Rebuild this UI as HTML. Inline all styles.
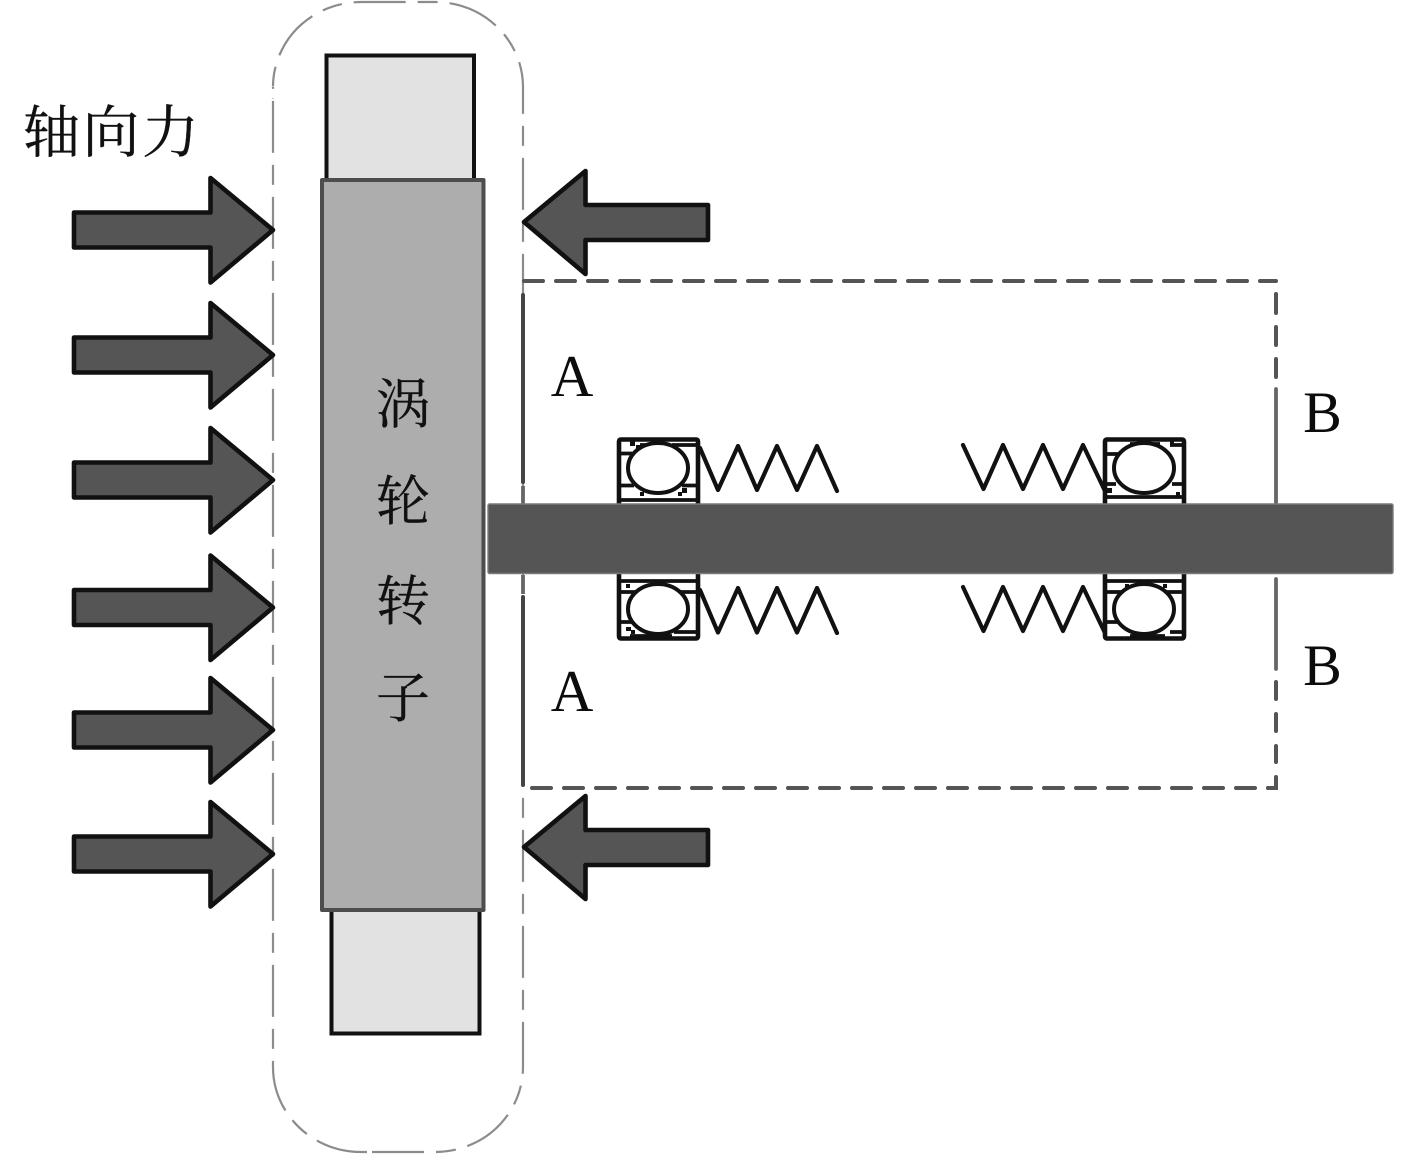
<!DOCTYPE html>
<html><head><meta charset="utf-8"><style>
html,body{margin:0;padding:0;background:#fff}
svg{display:block}
.c{font-family:"Liberation Serif","Noto Serif CJK SC",serif;fill:#111;stroke:#111;stroke-width:.3}
.l{font-family:"Liberation Serif",serif;fill:#0c0c0c;text-anchor:middle}
.a{fill:#555;stroke:#111;stroke-width:4.600;stroke-linejoin:round}
.b{fill:none;stroke:#111;stroke-width:4.600;stroke-linejoin:round;stroke-linecap:round}
.b2{fill:none;stroke:#111;stroke-width:3.800}
.s{fill:none;stroke:#111;stroke-width:4.200;stroke-linecap:round;stroke-linejoin:round}
.o{fill:none;stroke:#8c8c8c;stroke-width:2.200;stroke-dasharray:52 12 20 12}
.d{fill:none;stroke:#555;stroke-width:4;stroke-linecap:round;stroke-dasharray:19 13}
</style></head><body>
<svg width="1417" height="1154" viewBox="0 0 1417 1154" xmlns="http://www.w3.org/2000/svg">
<rect width="1417" height="1154" fill="#fff"/>

<!-- outer contour -->
<path class="o" d="M367 1152H361A88 85 0 0 1 273 1067V87"/>
<path class="o" d="M372 1152H435A88 85 0 0 0 523 1067V87A88 85 0 0 0 435 2H361A88 85 0 0 0 273 87V99"/>

<!-- dashed box -->
<path class="d" d="M524 281H1276"/>
<path class="d" d="M532 788H1276"/>
<path d="M1276 294V313M1276 327V345M1276 359V377M1276 682V699M1276 714V731M1276 746V762M1276 777V788H1268" fill="none" stroke="#555" stroke-width="4" stroke-linecap="round"/>
<path d="M1276 389V504M1276 579V669" stroke="#666" stroke-width="3.800" fill="none" stroke-linecap="round"/>
<path d="M523 295V482M523 597V785" stroke="#444" stroke-width="4" stroke-linecap="round" fill="none"/>
<path d="M523 486V504M523 575V594" stroke="#666" stroke-width="3.800" fill="none"/>

<!-- rotor -->
<rect x="326.500" y="55.500" width="147.500" height="126" fill="#e2e2e2" stroke="#111" stroke-width="4"/>
<rect x="331.500" y="908" width="148" height="125.500" fill="#e2e2e2" stroke="#111" stroke-width="4"/>
<rect x="322" y="180" width="161.500" height="730" fill="#adadad" stroke="#4d4d4d" stroke-width="4" stroke-linejoin="round"/>

<!-- arrows -->
<defs>
<path id="ar" class="a" d="M74 212.500H210.500V178L273 230L210.500 282.500V247.500H74Z"/>
<path id="al" class="a" d="M708 205H585.500V171L524 222L585.500 274V240H708Z"/>
</defs>
<use href="#ar"/>
<use href="#ar" y="125"/>
<use href="#ar" y="250"/>
<use href="#ar" y="377.500"/>
<use href="#ar" y="500"/>
<use href="#ar" y="624"/>
<use href="#al"/>
<use href="#al" y="625"/>

<!-- bearing upper left -->
<g>
<path class="b" d="M619 504V441.500Q619 439.500 621 439.500H696Q698 439.500 698 441.500V504"/>
<path class="b2" d="M619 485.500H634M682 485.500H698M619 500H698M619 453.500H632M672 445H698M640 445H668"/>
<ellipse cx="658" cy="468" rx="30" ry="25" fill="#fff" stroke="#111" stroke-width="4"/>
<rect x="630" y="441" width="5" height="5" fill="#111"/><rect x="636" y="445" width="4" height="5" fill="#111"/>
<rect x="682" y="488" width="5" height="5" fill="#111"/><rect x="640" y="492" width="4" height="4" fill="#111"/><rect x="678" y="492" width="4" height="4" fill="#111"/>
</g>
<!-- lower left -->
<g>
<path class="b" d="M619 574V636Q619 638.500 621 638.500H696Q698 638.500 698 636V574"/>
<path class="b2" d="M619 581H698M619 592H636M680 592H698M619 622H632M674 632H698M630 636H672"/>
<ellipse cx="658" cy="609" rx="30" ry="25" fill="#fff" stroke="#111" stroke-width="4"/>
<rect x="626" y="584" width="4" height="4" fill="#111"/><rect x="626" y="627" width="5" height="4" fill="#111"/><rect x="631" y="630" width="4" height="4" fill="#111"/>
</g>
<!-- upper right -->
<g>
<path class="b" d="M1105 504V441.500Q1105 439.500 1107 439.500H1182Q1184 439.500 1184 441.500V504"/>
<path class="b2" d="M1105 454H1118M1105 484H1116M1172 484H1184M1105 497H1184M1170 445H1184M1130 444H1160"/>
<ellipse cx="1144" cy="468" rx="30" ry="25" fill="#fff" stroke="#111" stroke-width="4"/>
<rect x="1107" y="488" width="5" height="5" fill="#111"/><rect x="1176" y="492" width="4" height="4" fill="#111"/><rect x="1170" y="441" width="4" height="4" fill="#111"/>
</g>
<!-- lower right -->
<g>
<path class="b" d="M1105 574V636Q1105 638.500 1107 638.500H1182Q1184 638.500 1184 636V574"/>
<path class="b2" d="M1105 581H1184M1105 592H1122M1166 592H1184M1105 622H1118M1170 632H1184M1130 636H1165"/>
<ellipse cx="1144" cy="609" rx="30" ry="25" fill="#fff" stroke="#111" stroke-width="4"/>
<rect x="1125" y="584" width="4" height="4" fill="#111"/><rect x="1163" y="584" width="4" height="4" fill="#111"/>
</g>

<!-- springs -->
<path class="s" d="M700 448L718 490L738 446L757 490L777 446L797 490L817 446L837 491"/>
<path class="s" d="M700 590L718 632.500L738 588L757 632.500L777 588L797 632.500L817 588L837 633"/>
<path class="s" d="M963 445L983.500 489L1003 445L1023 489L1043 445L1063 489L1083 445L1105 491"/>
<path class="s" d="M963 587L983.500 631L1003 587L1023 631L1043 587L1063 631L1083 587L1105 633"/>

<!-- shaft -->
<rect x="488" y="504" width="905" height="69.500" rx="1.500" fill="#555" stroke="#7a7a7a" stroke-width="1.400"/>

<!-- labels -->
<text class="c" x="23" y="152" font-size="57" textLength="176" lengthAdjust="spacing">轴向力</text>
<text class="c" x="403" y="423" font-size="54" text-anchor="middle">涡</text>
<text class="c" x="403" y="520" font-size="54" text-anchor="middle">轮</text>
<text class="c" x="403" y="620" font-size="54" text-anchor="middle">转</text>
<text class="c" x="403" y="717" font-size="54" text-anchor="middle">子</text>
<text class="l" x="572" y="396" font-size="59">A</text>
<text class="l" x="572" y="711" font-size="59">A</text>
<text class="l" x="1322.500" y="432" font-size="58">B</text>
<text class="l" x="1322.500" y="685" font-size="58">B</text>
</svg>
</body></html>
